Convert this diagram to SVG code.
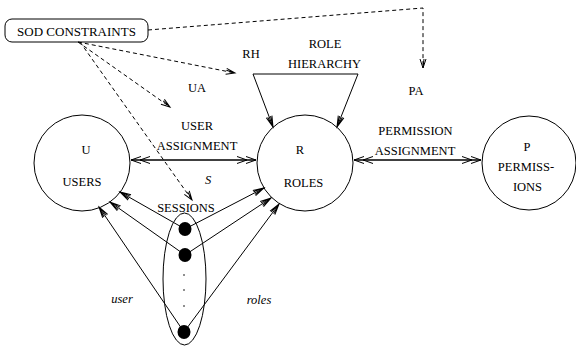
<svg xmlns="http://www.w3.org/2000/svg" width="576" height="350" viewBox="0 0 576 350">
<style>
text{font-family:"Liberation Serif","Times New Roman",serif;font-size:12.5px;fill:#000;text-anchor:middle}
.it{font-style:italic}
.ln{fill:none;stroke:#000;stroke-width:1}
.dash{fill:none;stroke:#000;stroke-width:1;stroke-dasharray:4,3}
.sol{fill:none;stroke:#000;stroke-width:1.6}
</style>
<defs>
<marker id="dbl" markerUnits="userSpaceOnUse" viewBox="-21 -5 23 10" refX="0" refY="0" markerWidth="23" markerHeight="10" orient="auto-start-reverse" overflow="visible">
<path d="M-10,-3.5 L0,0 L-10,3.5 M-19,-3.5 L-9,0 L-19,3.5" fill="none" stroke="#000" stroke-width="1"/>
</marker>
<marker id="arr" markerUnits="userSpaceOnUse" viewBox="-12 -4 14 8" refX="0" refY="0" markerWidth="14" markerHeight="8" orient="auto-start-reverse" overflow="visible">
<path d="M-11,-3 L0,0 L-11,3 M-11,-1.5 L0,0 L-11,1.5" fill="none" stroke="#000" stroke-width="1"/>
</marker>
<marker id="dv" markerUnits="userSpaceOnUse" viewBox="-10 -4 12 8" refX="0" refY="0" markerWidth="12" markerHeight="8" orient="auto" overflow="visible">
<path d="M-9,-3 L0,0 L-9,3 M-9,-1 L0,0" fill="none" stroke="#000" stroke-width="1"/>
</marker>
</defs>
<g id="connectors">
<polyline class="dash" points="148,30 423,8 423,68" marker-end="url(#dv)"/>
<line class="dash" x1="78" y1="42" x2="235" y2="73" marker-end="url(#dv)"/>
<line class="dash" x1="78" y1="42" x2="170" y2="107" marker-end="url(#dv)"/>
<line class="dash" x1="80" y1="42" x2="192" y2="200" marker-end="url(#dv)"/>
<line class="sol" x1="131" y1="160" x2="256" y2="160" marker-start="url(#dbl)" marker-end="url(#dbl)"/>
<line class="sol" x1="354" y1="160" x2="481" y2="160" marker-start="url(#dbl)" marker-end="url(#dbl)"/>
<path class="ln" d="M273,127 L253,74 L358,74 L337,127" marker-start="url(#arr)" marker-end="url(#arr)"/>
<line class="ln" x1="185" y1="229" x2="120" y2="192" marker-end="url(#arr)"/>
<line class="ln" x1="185" y1="229" x2="264" y2="188" marker-end="url(#arr)"/>
<line class="ln" x1="185" y1="255" x2="110" y2="202" marker-end="url(#arr)"/>
<line class="ln" x1="185" y1="255" x2="271" y2="198" marker-end="url(#arr)"/>
<line class="ln" x1="184" y1="332" x2="99" y2="207" marker-end="url(#arr)"/>
<line class="ln" x1="184" y1="332" x2="279" y2="204" marker-end="url(#arr)"/>
</g>
<g id="sod">
<rect class="ln" x="5" y="19" width="143" height="23" rx="7"/>
<text x="76.5" y="36" style="font-size:13px">SOD CONSTRAINTS</text>
</g>
<g id="users">
<circle class="ln" cx="82" cy="163" r="48"/>
<text x="86" y="154">U</text>
<text x="82" y="186">USERS</text>
</g>
<g id="roles">
<circle class="ln" cx="305" cy="163" r="48"/>
<text x="300" y="154">R</text>
<text x="303.5" y="187">ROLES</text>
</g>
<g id="permissions">
<circle class="ln" cx="529" cy="163" r="47"/>
<text x="527" y="151">P</text>
<text x="526" y="171">PERMISS-</text>
<text x="527.5" y="191">IONS</text>
</g>
<g id="sessions">
<ellipse class="ln" cx="184.5" cy="279" rx="21.5" ry="66"/>
<ellipse cx="185" cy="229" rx="6.5" ry="7"/>
<ellipse cx="185" cy="255" rx="6.5" ry="7"/>
<ellipse cx="184" cy="332" rx="6.5" ry="7"/>
<circle cx="184" cy="275" r="0.8"/>
<circle cx="184" cy="290" r="0.8"/>
<circle cx="184" cy="306" r="0.8"/>
<text x="186" y="212">SESSIONS</text>
</g>
<g id="labels">
<text x="325" y="48">ROLE</text>
<text x="324.5" y="68">HIERARCHY</text>
<text x="251" y="58">RH</text>
<text x="197" y="92">UA</text>
<text x="416" y="95">PA</text>
<text x="197" y="130">USER</text>
<text x="197" y="150">ASSIGNMENT</text>
<text x="415.5" y="135">PERMISSION</text>
<text x="415" y="155">ASSIGNMENT</text>
<text class="it" x="208" y="184">S</text>
<text class="it" x="122" y="303">user</text>
<text class="it" x="259" y="304">roles</text>
</g>
</svg>
